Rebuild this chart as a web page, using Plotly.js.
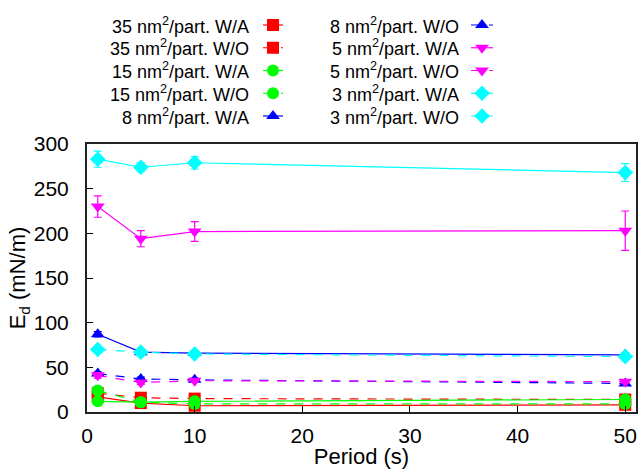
<!DOCTYPE html>
<html>
<head>
<meta charset="utf-8">
<script src="https://cdn.plot.ly/plotly-3.0.1.min.js"></script>
<style>html,body{margin:0;padding:0;background:#fff;}#chart{width:643px;height:469px;}</style>
</head>
<body>
<div id="chart"></div>
<script>
// ---- data ----
const periods = [1, 5, 10, 50];
const seriesNames = [
  '35 nm<sup>2</sup>/part. W/A', '35 nm<sup>2</sup>/part. W/O',
  '15 nm<sup>2</sup>/part. W/A', '15 nm<sup>2</sup>/part. W/O',
  '8 nm<sup>2</sup>/part. W/A',  '8 nm<sup>2</sup>/part. W/O',
  '5 nm<sup>2</sup>/part. W/A',  '5 nm<sup>2</sup>/part. W/O',
  '3 nm<sup>2</sup>/part. W/A',  '3 nm<sup>2</sup>/part. W/O'
];
const ed35WA = [17, 10, 7, 8];       const err35WA = [2, 1, 1, 1];
const ed35WO = [21, 16, 15, 14];     const err35WO = [3, 2, 2, 2];
const ed15WA = [12, 11, 12, 14];     const err15WA = [2, 2, 2, 2];
const ed15WO = [24, 11, 9, 9];       const err15WO = [3, 2, 2, 2];
const ed8WA  = [87, 67, 66, 64];     const err8WA  = [3, 3, 2, 2];
const ed8WO  = [43, 37, 36, 32];     const err8WO  = [2, 2, 2, 2];
const ed5WA  = [230, 194, 202, 203]; const err5WA  = [12, 9, 11, 22];
const ed5WO  = [41, 33, 35, 34];     const err5WO  = [3, 2, 2, 2];
const ed3WA  = [283, 274, 279, 268]; const err3WA  = [9, 5, 7, 10];
const ed3WO  = [70, 67, 65, 62];     const err3WO  = [2, 2, 2, 2];
const xTicks = [0, 10, 20, 30, 40, 50];
const yTicks = [0, 50, 100, 150, 200, 250, 300];

const values = [ed35WA, ed35WO, ed15WA, ed15WO, ed8WA, ed8WO, ed5WA, ed5WO, ed3WA, ed3WO];
const errors = [err35WA, err35WO, err15WA, err15WO, err8WA, err8WO, err5WA, err5WO, err3WA, err3WO];

// ---- styles ----
const colors  = ['#ff0000','#ff0000','#00ff00','#00ff00','#0000ff','#0000ff','#ff00ff','#ff00ff','#00ffff','#00ffff'];
const symbols = ['square','square','circle','circle','triangle-up','triangle-up','triangle-down','triangle-down','diamond','diamond'];
const dashes  = ['solid','dash','solid','dash','solid','dash','solid','dash','solid','dash'];

const W = 643, H = 469;
const plotL = 87, plotR = 636, plotT = 144, plotB = 412;
const FONT = 'Liberation Sans, Arial, sans-serif';
const LEG_FS = 18;
const AX_FS = 21;
const TITLE_FS = 22;

const traces = [];
values.forEach((v, i) => {
  traces.push({
    x: periods, y: v, type: 'scatter', mode: 'lines+markers',
    xaxis: 'x', yaxis: 'y', showlegend: false, hoverinfo: 'skip',
    line: {color: colors[i], width: 1.2, dash: dashes[i]},
    marker: {symbol: symbols[i], size: 12, color: colors[i], line: {width: 0}},
    error_y: {type: 'data', array: errors[i], visible: true, color: colors[i], thickness: 1.2, width: 4}
  });
});

// legend samples on an auxiliary pixel-space axis
const legRowY0 = 25, legRowDY = 22.75;
const legCols = [{textX: 251, x0: 263, x1: 283}, {textX: 461, x0: 471, x1: 493}];
const annotations = [];
seriesNames.forEach((name, i) => {
  const col = legCols[Math.floor(i / 5)];
  const yy = legRowY0 + (i % 5) * legRowDY;
  traces.push({
    x: [col.x0, (col.x0 + col.x1) / 2, col.x1], y: [yy, yy, yy],
    xaxis: 'x2', yaxis: 'y2', type: 'scatter', mode: 'lines', showlegend: false, hoverinfo: 'skip',
    line: {color: colors[i], width: 1.2, dash: dashes[i]}
  });
  traces.push({
    x: [(col.x0 + col.x1) / 2], y: [yy],
    xaxis: 'x2', yaxis: 'y2', type: 'scatter', mode: 'markers', showlegend: false, hoverinfo: 'skip',
    marker: {symbol: symbols[i], size: 12, color: colors[i], line: {width: 0}}
  });
  annotations.push({
    xref: 'x2', yref: 'y2', x: col.textX, y: yy, xanchor: 'right', yanchor: 'middle',
    text: name, showarrow: false, font: {family: FONT, size: LEG_FS, color: '#000'}
  });
});

const layout = {
  width: W, height: H,
  margin: {l: 0, r: W - plotR, t: 0, b: H - plotB, pad: 0},
  paper_bgcolor: '#fff', plot_bgcolor: 'rgba(0,0,0,0)',
  showlegend: false,
  font: {family: FONT, size: AX_FS, color: '#000'},
  xaxis: {
    domain: [plotL / plotR, 1], range: [0, 51], tickvals: xTicks, ticktext: xTicks.map(String),
    ticks: 'inside', ticklen: 6, tickwidth: 1, tickcolor: '#000',
    showline: true, mirror: true, linecolor: '#222', linewidth: 2,
    showgrid: false, zeroline: false, ticklabelstandoff: 4,
    tickfont: {family: FONT, size: AX_FS, color: '#000'},
    title: {text: 'Period (s)', font: {family: FONT, size: TITLE_FS, color: '#000'}, standoff: 0},
    automargin: false
  },
  yaxis: {
    domain: [0, (plotB - plotT) / plotB], range: [0, 300], tickvals: yTicks, ticktext: yTicks.map(String),
    ticks: 'inside', ticklen: 6, tickwidth: 1, tickcolor: '#000',
    showline: true, mirror: true, linecolor: '#222', linewidth: 2,
    showgrid: false, zeroline: false, ticklabelstandoff: 12,
    tickfont: {family: FONT, size: AX_FS, color: '#000'},
    title: {text: 'E<sub>d</sub> (mN/m)', font: {family: FONT, size: TITLE_FS, color: '#000'}, standoff: 2},
    automargin: false
  },
  xaxis2: {domain: [0, 1], range: [0, plotR], visible: false, fixedrange: true, anchor: 'y2'},
  yaxis2: {domain: [0, 1], range: [plotB, 0], visible: false, fixedrange: true, anchor: 'x2'},
  annotations: annotations
};

Plotly.newPlot('chart', traces, layout, {staticPlot: true, displayModeBar: false});
</script>
</body>
</html>
